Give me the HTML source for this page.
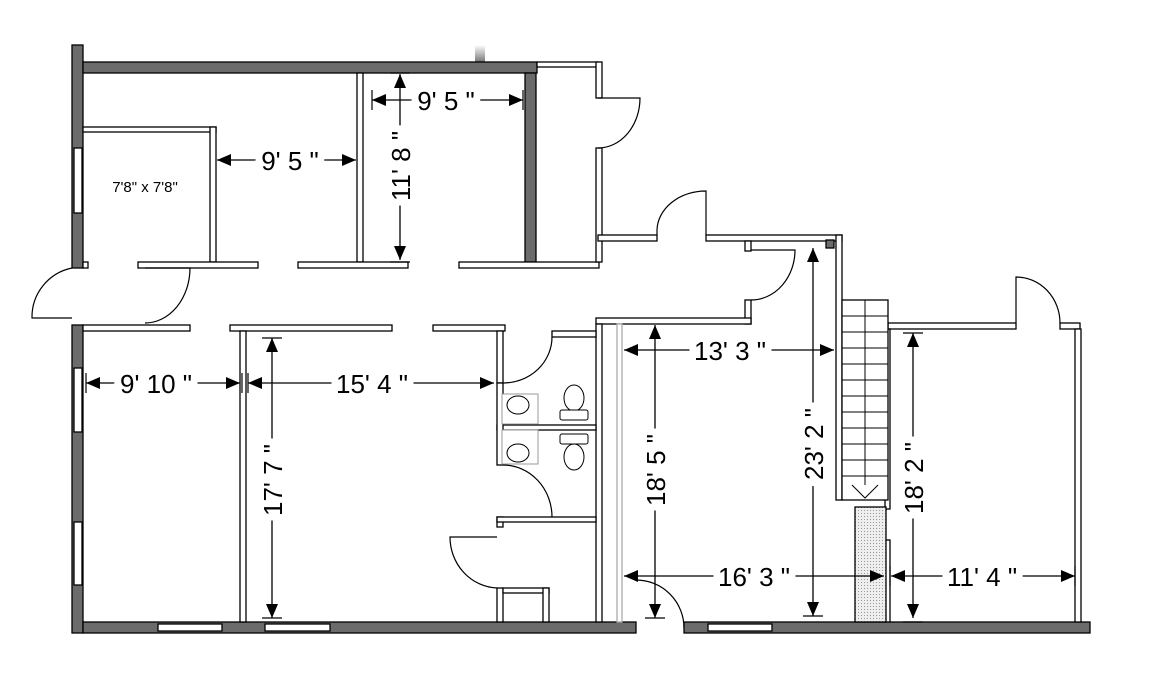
<!DOCTYPE html>
<html><head><meta charset="utf-8"><style>
html,body{margin:0;padding:0;background:#fff;}
svg{display:block;}
text{font-family:"Liberation Sans",sans-serif;fill:#000;}
.d{font-size:26px;paint-order:stroke;stroke:#fff;stroke-width:14px;}
</style></head><body>
<svg width="1150" height="679" viewBox="0 0 1150 679" xmlns="http://www.w3.org/2000/svg">
<defs>
<marker id="a" viewBox="0 0 14 12" refX="14" refY="6" markerWidth="14" markerHeight="12" markerUnits="userSpaceOnUse" orient="auto-start-reverse"><path d="M0,0L14,6L0,12z" fill="#000"/></marker>
<pattern id="dots" width="3" height="3" patternUnits="userSpaceOnUse"><rect width="3" height="3" fill="#eee"/><rect width="1" height="1" fill="#999"/></pattern>
<linearGradient id="fade" x1="0" y1="0" x2="0" y2="1"><stop offset="0" stop-color="#fff"/><stop offset="1" stop-color="#777"/></linearGradient>
</defs>
<rect x="475" y="45" width="10" height="17" fill="url(#fade)"/>
<g stroke="#000" stroke-width="1.3">
<g fill="#6b6b6b">
<rect x="72" y="45" width="11" height="223"/>
<rect x="72" y="325" width="11" height="308"/>
<rect x="83" y="62" width="454" height="11"/>
<rect x="525" y="73" width="11" height="189"/>
<rect x="83" y="622" width="553" height="11"/>
<rect x="684" y="622" width="406" height="11"/>
</g>
<g fill="#fff">
<rect x="74" y="148" width="8" height="65"/>
<rect x="74" y="368" width="8" height="64"/>
<rect x="74" y="522" width="8" height="63"/>
<rect x="158" y="624" width="64" height="7"/>
<rect x="265" y="624" width="65" height="7"/>
<rect x="708" y="624" width="64" height="7"/>
</g>
<g fill="#fff">
<rect x="83" y="127" width="133" height="5"/>
<rect x="210" y="127" width="6" height="135"/>
<rect x="357" y="73" width="6" height="189"/>
<rect x="83" y="262" width="5" height="6"/>
<rect x="138" y="262" width="120" height="6"/>
<rect x="298" y="262" width="110" height="6"/>
<rect x="459" y="262" width="140" height="6"/>
<rect x="537" y="62" width="61" height="5"/>
<rect x="596" y="62" width="6" height="36"/>
<rect x="596" y="148" width="6" height="114"/>
<rect x="598" y="235" width="59" height="6"/>
<rect x="706" y="235" width="136" height="6"/>
<rect x="836" y="235" width="6" height="265"/>
<rect x="745" y="241" width="6" height="10"/>
<rect x="745" y="300" width="6" height="24"/>
<rect x="596" y="318" width="155" height="6"/>
<rect x="596" y="324" width="6" height="298"/>
<rect x="617" y="324" width="5" height="298" stroke="#aaa"/>
<rect x="83" y="325" width="107" height="6"/>
<rect x="230" y="325" width="162" height="6"/>
<rect x="433" y="325" width="72" height="6"/>
<rect x="497" y="331" width="6" height="52"/>
<rect x="552" y="331" width="44" height="6"/>
<rect x="497" y="425" width="99" height="5"/>
<rect x="497" y="383" width="6" height="82"/>
<rect x="497" y="517" width="6" height="10"/>
<rect x="497" y="517" width="99" height="5"/>
<rect x="497" y="588" width="6" height="34"/>
<rect x="503" y="588" width="46" height="5"/>
<rect x="543" y="588" width="6" height="34"/>
<rect x="240" y="331" width="6" height="291"/>
<rect x="888" y="323" width="128" height="6"/>
<rect x="1060" y="323" width="20" height="6"/>
<rect x="1075" y="329" width="6" height="293"/>
<rect x="885" y="329" width="5" height="180"/>
<rect x="885" y="540" width="5" height="82"/>
<rect x="826" y="240" width="8" height="8" fill="#6b6b6b"/>
</g>
<rect x="842" y="300" width="46" height="200" fill="#fff"/>
<g stroke-width="1" fill="none">
<line x1="865" y1="300" x2="865" y2="485"/>
<path d="M842 316H888M842 332H888M842 348H888M842 364H888M842 380H888M842 396H888M842 412H888M842 428H888M842 444H888M842 460H888M842 476H888M852 485L865 498L878 485"/>
</g>
<rect x="855" y="507" width="31" height="115" fill="url(#dots)"/>
<g fill="none" stroke-width="1.2">
<path d="M72 268 A50 50 0 0 0 32 318 L72 318"/>
<path d="M145 268 H190 A45 55 0 0 1 145 323"/>
<path d="M598 98 H640 A42 50 0 0 1 598 148"/>
<path d="M657 235 V230 A49 40 0 0 1 706 191 V235"/>
<path d="M751 250 H795 A44 50 0 0 1 751 300"/>
<path d="M503 383 A49 46 0 0 0 552 337"/>
<path d="M503 465 A49 52 0 0 1 552 517"/>
<path d="M497 537 H450 A49 51 0 0 0 497 588"/>
<path d="M636 580 A48 48 0 0 1 684 628"/>
<path d="M1016 323 V277 A44 46 0 0 1 1060 323"/>
</g>
<g fill="#fff" stroke-width="1">
<rect x="502" y="394" width="36" height="30" stroke="#999"/>
<rect x="502" y="430" width="36" height="34" stroke="#999"/>
<ellipse cx="518" cy="405" rx="11" ry="9"/>
<ellipse cx="518" cy="453" rx="11" ry="9"/>
<ellipse cx="574" cy="398" rx="10" ry="13"/>
<rect x="560" y="410" width="28" height="10" rx="2"/>
<rect x="560" y="434" width="28" height="10" rx="2"/>
<ellipse cx="574" cy="457" rx="10" ry="13"/>
</g>
</g>
<g stroke="#000" stroke-width="1.3" fill="none" marker-start="url(#a)" marker-end="url(#a)">
<line x1="372" y1="100" x2="523" y2="100"/>
<line x1="400" y1="74" x2="400" y2="260"/>
<line x1="217" y1="160" x2="356" y2="160"/>
<line x1="86" y1="383" x2="240" y2="383"/>
<line x1="248" y1="383" x2="494" y2="383"/>
<line x1="272" y1="338" x2="272" y2="618"/>
<line x1="624" y1="350" x2="834" y2="350"/>
<line x1="655" y1="325" x2="655" y2="618"/>
<line x1="813" y1="248" x2="813" y2="616"/>
<line x1="624" y1="576" x2="884" y2="576"/>
<line x1="913" y1="333" x2="913" y2="618"/>
<line x1="891" y1="576" x2="1075" y2="576"/>
</g>
<g stroke="#000" stroke-width="1.2">
<path d="M372 90V110M523 90V110M86 373V393M242 373V393M248 373V393M890 566V586M1075 566V586M390 73H410M390 262H410M262 338H282M262 618H282M645 618H665M803 616H823M903 333H923M903 622H923"/>
</g>
<text class="d" x="446" y="110" text-anchor="middle">9' 5 "</text>
<text class="d" x="290" y="170" text-anchor="middle">9' 5 "</text>
<text class="d" x="156" y="393" text-anchor="middle">9' 10 "</text>
<text class="d" x="372" y="393" text-anchor="middle">15' 4 "</text>
<text class="d" x="730" y="360" text-anchor="middle">13' 3 "</text>
<text class="d" x="754" y="586" text-anchor="middle">16' 3 "</text>
<text class="d" x="982" y="586" text-anchor="middle">11' 4 "</text>
<text class="d" transform="translate(410,166) rotate(-90)" text-anchor="middle">11' 8 "</text>
<text class="d" transform="translate(282,480) rotate(-90)" text-anchor="middle">17' 7 "</text>
<text class="d" transform="translate(665,470) rotate(-90)" text-anchor="middle">18' 5 "</text>
<text class="d" transform="translate(823,444) rotate(-90)" text-anchor="middle">23' 2 "</text>
<text class="d" transform="translate(923,478) rotate(-90)" text-anchor="middle">18' 2 "</text>
<text x="145" y="192" font-size="15" text-anchor="middle">7'8" x 7'8"</text>
</svg>
</body></html>
